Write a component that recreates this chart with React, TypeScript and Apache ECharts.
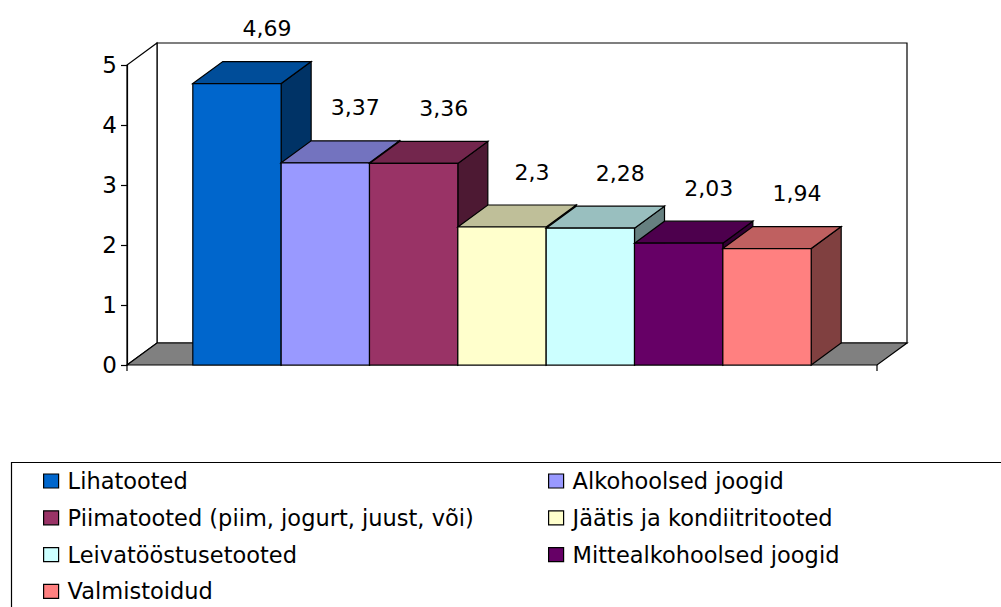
import React, { useEffect, useRef } from "react";
import * as echarts from "echarts";

const categories = [
  "Lihatooted",
  "Alkohoolsed joogid",
  "Piimatooted (piim, jogurt, juust, või)",
  "Jäätis ja kondiitritooted",
  "Leivatööstusetooted",
  "Mittealkohoolsed joogid",
  "Valmistoidud",
];
const values = [4.69, 3.37, 3.36, 2.3, 2.28, 2.03, 1.94];
const frontColors = ["#0066CC", "#9999FF", "#993366", "#FFFFCC", "#CCFFFF", "#660066", "#FF8080"];
const topColors = ["#004D99", "#7373BF", "#73264D", "#BFBF99", "#99BFBF", "#4D004D", "#BF6060"];
const sideColors = ["#003366", "#4D4D80", "#4D1933", "#808066", "#668080", "#330033", "#804040"];
const legendCol1 = [categories[0], categories[2], categories[4], categories[6]];
const legendCol2 = [categories[1], categories[3], categories[5]];

const DX = 30;
const DY = -22;
const FONT = "DejaVu Sans";

export default function App() {
  const ref = useRef<HTMLDivElement>(null);
  useEffect(() => {
    if (!ref.current) return;
    const chart = echarts.init(ref.current, null, { renderer: "svg" });

    const frameSeries: any = {
      type: "custom",
      name: "frame",
      silent: true,
      clip: false,
      data: [[0, 0]],
      z: 1,
      renderItem: (params: any) => {
        const cs = params.coordSys;
        const L = cs.x, R = cs.x + cs.width, T = cs.y, B = cs.y + cs.height;
        const st = { stroke: "#000", lineWidth: 1.2 };
        return {
          type: "group",
          children: [
            { type: "rect", shape: { x: L + DX, y: T + DY, width: cs.width, height: cs.height }, style: { fill: "#fff", ...st } },
            { type: "polygon", shape: { points: [[L, B], [L, T], [L + DX, T + DY], [L + DX, B + DY]] }, style: { fill: "#fff", ...st } },
            { type: "polygon", shape: { points: [[L, B], [L + DX, B + DY], [R + DX, B + DY], [R, B]] }, style: { fill: "#808080", ...st } },
            { type: "line", shape: { x1: R, y1: B, x2: R, y2: B + 6 }, style: st },
            { type: "line", shape: { x1: L, y1: B, x2: L, y2: B + 6 }, style: st },
          ],
        };
      },
    };

    const barSeries = categories.map((name, idx) => ({
      type: "custom",
      name,
      clip: false,
      z: 2,
      itemStyle: { color: frontColors[idx], borderColor: "#000", borderWidth: 1.2 },
      data: [[idx, values[idx]]],
      renderItem: (params: any, api: any) => {
        const i = api.value(0);
        const v = api.value(1);
        const p1 = api.coord([i - 0.5, v]);
        const p0 = api.coord([i + 0.5, 0]);
        const xl = p1[0], yt = p1[1], xr = p0[0], yb = p0[1];
        const st = { stroke: "#000", lineWidth: 1.2 };
        return {
          type: "group",
          children: [
            { type: "polygon", shape: { points: [[xr, yb], [xr, yt], [xr + DX, yt + DY], [xr + DX, yb + DY]] }, style: { fill: sideColors[idx], ...st } },
            { type: "polygon", shape: { points: [[xl, yt], [xl + DX, yt + DY], [xr + DX, yt + DY], [xr, yt]] }, style: { fill: topColors[idx], ...st } },
            { type: "rect", shape: { x: xl, y: yt, width: xr - xl, height: yb - yt }, style: { fill: frontColors[idx], ...st } },
            {
              type: "text",
              style: {
                x: (xl + xr) / 2 + 30,
                y: yt + DY - 33,
                text: String(v).replace(".", ","),
                fill: "#000",
                fontSize: 22,
                fontFamily: FONT,
                align: "center",
                verticalAlign: "middle",
              },
            },
          ],
        };
      },
    }));

    const legendCommon = {
      orient: "vertical",
      top: 469,
      padding: 0,
      itemGap: 12.8,
      icon: "rect",
      itemWidth: 15,
      itemHeight: 14,
      itemStyle: { borderColor: "#000", borderWidth: 1.2 },
      textStyle: { fontSize: 22.5, fontFamily: FONT, color: "#000", lineHeight: 24, padding: [0, 0, 0, 4] },
      selectedMode: false,
    };

    chart.setOption({
      animation: false,
      backgroundColor: "#fff",
      grid: { left: 127, right: 124, top: 65, bottom: 242 },
      xAxis: { type: "value", min: -1.245, max: 7.245, show: false },
      yAxis: {
        type: "value",
        min: 0,
        max: 5,
        interval: 1,
        axisLine: { show: true, onZero: false, lineStyle: { color: "#000", width: 1.2 } },
        axisTick: { show: true, length: 6, lineStyle: { color: "#000", width: 1.2 } },
        axisLabel: { fontSize: 23, fontFamily: FONT, color: "#000", margin: 10 },
        splitLine: { show: false },
        z: 5,
      },
      legend: [
        { ...legendCommon, left: 43, data: legendCol1 },
        { ...legendCommon, left: 548, data: legendCol2 },
      ],
      graphic: [
        {
          type: "rect",
          left: 9,
          top: 460,
          shape: { width: 1100, height: 200 },
          style: { fill: "none", stroke: "#000", lineWidth: 1.2 },
          silent: true,
        },
      ],
      series: [frameSeries, ...barSeries],
    });
    return () => chart.dispose();
  }, []);
  return <div ref={ref} style={{ position: "fixed", left: 0, top: 0, width: 1001, height: 607 }} />;
}
